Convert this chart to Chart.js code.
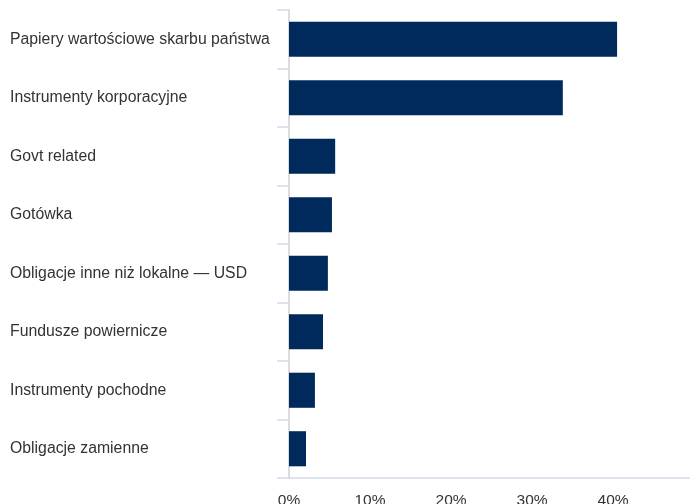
<!DOCTYPE html>
<html>
<head>
<meta charset="utf-8">
<script src="https://cdn.jsdelivr.net/npm/chart.js@4/dist/chart.umd.min.js"></script>
<style>
    html, body { margin: 0; padding: 0; background: #fff; }
    #wrap { width: 690px; height: 504px; }
</style>
</head>
<body>
<div id="wrap"><canvas id="allocChart"></canvas></div>
<script>
const CATEGORIES = [
    'Papiery wartościowe skarbu państwa',
    'Instrumenty korporacyjne',
    'Govt related',
    'Gotówka',
    'Obligacje inne niż lokalne — USD',
    'Fundusze powiernicze',
    'Instrumenty pochodne',
    'Obligacje zamienne'
];
const WEIGHTS = [40.5, 33.8, 5.7, 5.3, 4.8, 4.2, 3.2, 2.1];
const X_TICKS = [0, 10, 20, 30, 40];
const X_MAX = 49.5;

const BAR_COLOR = '#002a5c';
const TEXT_COLOR = '#333333';
const FONT_Y = { family: 'Arial, "Liberation Sans", sans-serif', size: 15.8 };
const FONT_X = { family: 'Arial, "Liberation Sans", sans-serif', size: 15.5 };

function buildChart() {
    const ctx = document.getElementById('allocChart');
    return new Chart(ctx, {
        type: 'bar',
        data: {
            labels: CATEGORIES,
            datasets: [{ data: WEIGHTS, backgroundColor: BAR_COLOR, borderWidth: 0, barPercentage: 0.6, categoryPercentage: 1 }]
        },
        options: {
            indexAxis: 'y',
            responsive: true,
            maintainAspectRatio: false,
            animation: false,
            layout: { padding: { top: 10, left: 10, right: 0, bottom: 0 } },
            plugins: { legend: { display: false }, tooltip: { enabled: false } },
            scales: {
                x: {
                    min: 0,
                    max: X_MAX,
                    afterBuildTicks: (s) => { s.ticks = X_TICKS.map(v => ({ value: v })); },
                    afterFit: (s) => { s.height = 26; s.paddingLeft = 0; s.paddingRight = 0; },
                    grid: { display: false, drawTicks: false },
                    border: { display: true, color: '#dde3f0', width: 2 },
                    ticks: { padding: 13, color: TEXT_COLOR, font: FONT_X, maxRotation: 0, callback: (v) => v + '%' }
                },
                y: {
                    afterFit: (s) => { s.width = 279; s.paddingTop = 0; s.paddingBottom = 0; },
                    grid: { drawOnChartArea: false, drawTicks: true, tickLength: 12, color: '#dde3f0', lineWidth: 2, offset: true },
                    border: { display: true, color: '#dcdcdc', width: 2 },
                    ticks: { crossAlign: 'far', padding: 7, color: TEXT_COLOR, font: FONT_Y }
                }
            }
        }
    });
}

buildChart();
</script>
</body>
</html>
